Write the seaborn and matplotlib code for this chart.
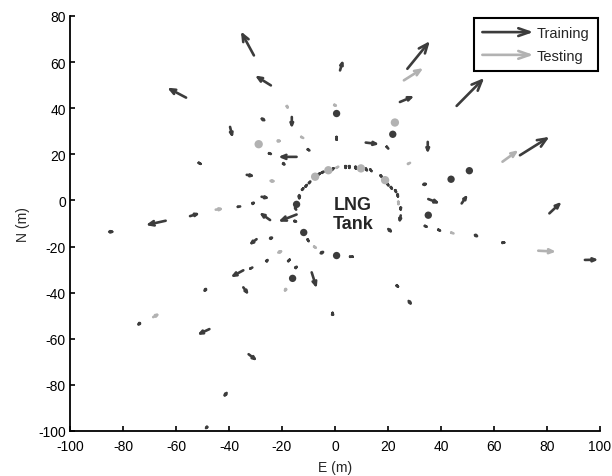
import numpy as np
import matplotlib
matplotlib.use('Agg')
import matplotlib.pyplot as plt
import matplotlib.patches as mpatches
from matplotlib.legend_handler import HandlerPatch
import seaborn as sns

# training vectors (tail position and displacement, m)
train_x = [-30.6, -24.2, -56.2, -16.3, -26.7, -39.6, -9.8, -24.3, -14.5, -19.5, -50.8, -33.3,
           -27.7, -31.1, -35.8, -54.7, -63.9, -85.2, -24.5, -14.5, -15.1, -10.0, -5.4, 6.5,
           -29.6, -24.5, -25.8, -17.2, -14.8, -31.2, -34.6, -8.8, -34.6, -48.7, -0.9, -73.6,
           -47.4, -32.6, -40.9, -48.4, 1.9, 27.3, 45.9, 24.5, 11.6, 20.1, 35.0, 69.8,
           33.3, 35.2, 47.8, 80.9, 34.6, 39.6, 52.8, 63.5, 94.3, 23.5, 27.8, 20.1,
           -13.5, 24.8, -14.7, 0.6,
           -12.0, -10.7, -9.4, -5.7, -4.4, -0.6, 4.0, 5.4, 7.8, 12.0, 13.8,
           17.6, 20.1, 21.4, 23.0, 23.7, 24.8]
train_y = [62.9, 49.9, 44.6, 36.2, 34.8, 31.9, 21.8, 20.2, 18.9, 16.0, 15.9, 11.1,
           1.6, -1.3, -2.6, -6.8, -8.8, -13.6, -8.5, -6.1, -9.0, -17.6, -22.9, -24.4,
           -16.8, -16.5, -26.3, -25.8, -29.1, -29.1, -30.3, -31.2, -37.7, -38.4, -49.6, -53.2,
           -55.8, -66.7, -83.5, -98.4, 56.4, 57.1, 41.0, 42.7, 25.1, 22.5, 25.4, 19.6,
           6.9, 0.6, -1.3, -5.6, -11.4, -13.1, -15.0, -18.3, -25.8, -37.1, -43.6, -12.4,
           2.3, -6.5, -3.9, 26.5,
           5.2, 6.6, 8.1, 11.7, 12.4, 13.9, 14.6, 14.6, 14.2, 13.1, 12.7,
           10.3, 6.6, 5.2, 3.8, 2.0, -3.5]
train_u = [-4.9, -6.0, -7.1, 0.0, -2.0, 1.0, 0.8, 0.8, -6.9, 1.3, 0.6, 3.1,
           3.1, 1.5, 0.5, 3.8, -7.5, 2.2, -4.1, -6.9, 1.4, 0.4, 2.0, 0.6,
           -2.9, 1.9, 1.0, 0.6, 1.2, 0.5, -4.8, 1.9, 2.1, -1.2, 0.0, -1.5,
           -4.6, 3.3, -1.5, -1.0, 1.2, 8.5, 10.4, 5.4, 5.1, 0.3, 0.0, 11.1,
           2.2, 4.4, 2.3, 4.6, 0.6, 0.6, 1.9, 1.3, 5.1, 1.0, 1.5, 1.9,
           0.0, -0.6, 0.4, 0.0,
           0.6, 0.6, 0.6, 0.8, 0.8, 0.5, 0.0, 0.0, 0.2, 0.4, 0.4,
           0.6, 0.5, 0.5, 0.4, 0.2, 0.0]
train_v = [10.4, 4.3, 4.3, -5.0, 1.4, -4.8, -0.6, -0.3, 0.0, -1.2, -0.4, -0.6,
           -0.7, 0.8, 0.1, 1.3, -1.9, 0.0, 3.3, -3.1, -0.6, -0.8, 1.2, 0.0,
           -2.6, 0.8, 1.5, 0.7, 1.1, 0.3, -3.0, -6.9, -3.3, -1.9, 2.1, -1.5,
           -2.5, -2.9, -2.2, -1.2, 4.6, 12.0, 12.1, 2.6, -0.7, -0.4, -5.1, 8.0,
           0.5, -1.9, 3.9, 5.0, -0.3, -0.4, -1.1, 0.0, 0.1, -1.0, -2.2, -1.9,
           -2.6, -3.5, -0.8, -0.6,
           0.8, 0.8, 0.8, 0.6, 0.5, 0.6, -1.6, -1.6, -1.4, -0.8, -0.6,
           -0.8, -0.9, -0.9, -1.0, -1.2, -1.5]

# testing vectors
test_x = [-18.0, -21.6, -12.0, -24.3, -45.0, -21.4, -7.3, -18.5, -68.6, 0.0, 26.0, 28.3,
          63.2, 44.7, 76.7, 1.2, 23.9]
test_y = [40.5, 25.8, 27.1, 8.5, -4.0, -22.6, -20.5, -38.4, -50.6, 41.3, 52.1, 16.3,
          16.8, -14.3, -21.8, 14.6, -1.3]
test_u = [0.5, 1.8, 0.5, 2.3, 3.1, 2.2, 0.6, -1.0, 2.6, 1.2, 7.3, 0.5,
          6.0, 0.5, 6.7, 0.6, 0.0]
test_v = [-1.2, 0.0, -0.3, -0.3, 0.5, 1.1, -0.5, -1.9, 1.7, -0.7, 5.3, 0.3,
          5.0, -0.2, -0.4, 0.4, -1.0]

# points with no visible displacement
train_dot_x = [0.6, 21.8, 43.8, 50.7, 35.2, 0.6, -14.5, -11.8, -16.0]
train_dot_y = [37.7, 28.7, 9.2, 12.9, -6.4, -23.9, -1.7, -13.9, -33.8]
test_dot_x = [-28.8, 22.6, -7.5, -2.5, 9.8, 18.9]
test_dot_y = [24.4, 33.8, 10.3, 13.1, 13.9, 8.8]

dark = '#3c3c3c'
light = '#b2b2b2'

sns.set_style('ticks', {'xtick.direction': 'in', 'ytick.direction': 'in'})
plt.rcParams['font.family'] = ['Liberation Sans', 'DejaVu Sans']
plt.rcParams['axes.unicode_minus'] = False

fig = plt.figure(figsize=(6.12, 4.77), dpi=100)
ax = fig.add_axes([70 / 612, 45 / 477, 530 / 612, 415 / 477])
ax.set_xlim(-100, 100)
ax.set_ylim(-100, 80)


def draw_arrows(ax, x, y, u, v, color):
    for x0, y0, du, dv in zip(x, y, u, v):
        p0 = ax.transData.transform((x0, y0))
        p1 = ax.transData.transform((x0 + du, y0 + dv))
        length = np.hypot(*(p1 - p0)) * 72 / fig.dpi
        hl = 0.26 * length
        hw = 0.11 * length
        ax.annotate('', xy=(x0 + du, y0 + dv), xytext=(x0, y0),
                    arrowprops=dict(arrowstyle=f'->,head_length={hl:.2f},head_width={hw:.2f}',
                                    color=color, lw=1.9, shrinkA=0, shrinkB=0,
                                    mutation_scale=1))


draw_arrows(ax, test_x, test_y, test_u, test_v, light)
draw_arrows(ax, train_x, train_y, train_u, train_v, dark)

sns.scatterplot(x=test_dot_x, y=test_dot_y, color=light, s=36, edgecolor='none', ax=ax, zorder=3)
sns.scatterplot(x=train_dot_x, y=train_dot_y, color=dark, s=28, edgecolor='none', ax=ax, zorder=3)

ax.text(6.7, -5.7, 'LNG\nTank', fontsize=13, fontweight='bold', ha='center', va='center',
        linespacing=1.15)

ax.set_xticks(np.arange(-100, 101, 20))
ax.set_yticks(np.arange(-100, 81, 20))
ax.tick_params(direction='in', length=3.5, width=1.2, labelsize=10, colors='black')
ax.tick_params(axis='x', pad=5.5)
ax.tick_params(axis='y', pad=3)
ax.set_xlabel('E (m)', fontsize=10, labelpad=5)
ax.set_ylabel('N (m)', fontsize=10, labelpad=6)
sns.despine(ax=ax)
for s in ['left', 'bottom']:
    ax.spines[s].set_linewidth(1.3)
    ax.spines[s].set_color('black')


class ArrowHandler(HandlerPatch):
    def create_artists(self, legend, orig_handle, xdescent, ydescent, width, height, fontsize, trans):
        yc = height / 2 - ydescent
        arr = mpatches.FancyArrowPatch((-xdescent, yc), (width - xdescent, yc),
                                       arrowstyle='->,head_length=8,head_width=2.8',
                                       mutation_scale=1, lw=1.9, shrinkA=0, shrinkB=0,
                                       color=orig_handle.get_edgecolor())
        arr.set_transform(trans)
        return [arr]


handles = [mpatches.Patch(edgecolor=dark, facecolor='none', label='Training'),
           mpatches.Patch(edgecolor=light, facecolor='none', label='Testing')]
leg = ax.legend(handles=handles, loc='upper right', fontsize=10.5, handlelength=3.5,
                handletextpad=0.25, borderaxespad=0.15, labelspacing=0.6, borderpad=0.55,
                fancybox=False, framealpha=1, edgecolor='black',
                handler_map={mpatches.Patch: ArrowHandler()})
leg.get_frame().set_linewidth(1.5)

fig.savefig('out.png', dpi=100)
